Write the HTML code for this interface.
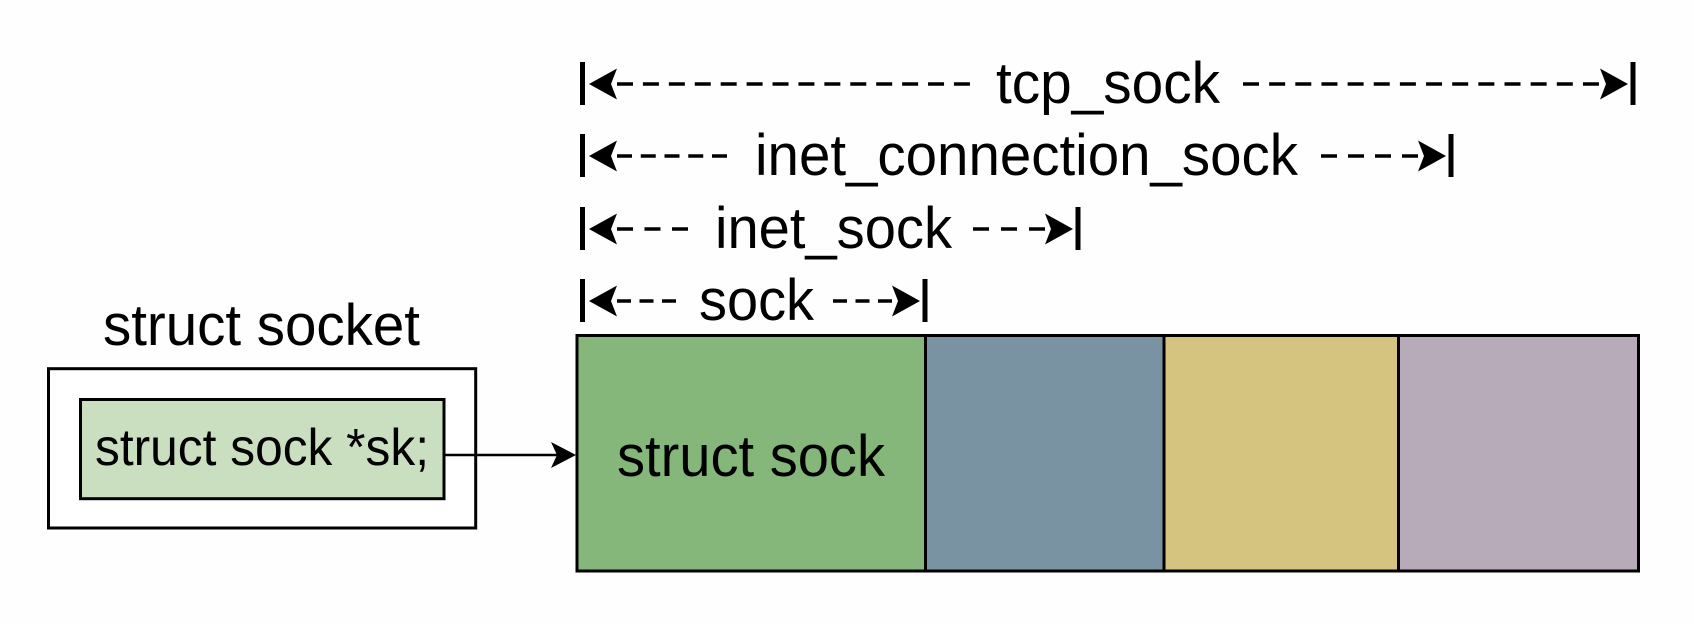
<!DOCTYPE html>
<html>
<head>
<meta charset="utf-8">
<style>
  html, body { margin: 0; padding: 0; background: #fefefe; }
  body { width: 1694px; height: 624px; overflow: hidden; }
  svg { display: block; }
  text { font-family: "Liberation Sans", Arial, sans-serif; fill: #000; }
</style>
</head>
<body>
<svg width="1694" height="624" viewBox="0 0 1694 624" xmlns="http://www.w3.org/2000/svg">
  <rect x="0" y="0" width="1694" height="624" fill="#fefefe"/>

  <!-- struct socket -->
  <text x="103" y="345" font-size="58" textLength="317" lengthAdjust="spacingAndGlyphs">struct socket</text>
  <rect x="48.5" y="368.7" width="427.2" height="159.3" fill="#ffffff" stroke="#000" stroke-width="3"/>
  <rect x="80.5" y="399.5" width="363.5" height="99.2" fill="#c9dfbf" stroke="#000" stroke-width="3"/>
  <text x="95" y="465" font-size="52" textLength="334" lengthAdjust="spacingAndGlyphs">struct sock *sk;</text>

  <!-- pointer arrow -->
  <line x1="444" y1="455" x2="558" y2="455" stroke="#000" stroke-width="2.5"/>
  <polygon points="576,455 551,442 557,455 551,468" fill="#000"/>

  <!-- big composite box -->
  <rect x="577" y="335.5" width="348.5" height="235.5" fill="#85b77b"/>
  <rect x="925.5" y="335.5" width="238.5" height="235.5" fill="#7a93a2"/>
  <rect x="1164" y="335.5" width="234.5" height="235.5" fill="#d5c47f"/>
  <rect x="1398.5" y="335.5" width="240" height="235.5" fill="#b8abb9"/>
  <rect x="577" y="335.5" width="1061.5" height="235.5" fill="none" stroke="#000" stroke-width="3"/>
  <line x1="925.5" y1="335.5" x2="925.5" y2="571" stroke="#000" stroke-width="3"/>
  <line x1="1164" y1="335.5" x2="1164" y2="571" stroke="#000" stroke-width="3"/>
  <line x1="1398.5" y1="335.5" x2="1398.5" y2="571" stroke="#000" stroke-width="3"/>
  <text x="617" y="476" font-size="58" textLength="268" lengthAdjust="spacingAndGlyphs">struct sock</text>

  <!-- Row 1: tcp_sock -->
  <g>
    <line x1="582.5" y1="62" x2="582.5" y2="105" stroke="#000" stroke-width="5"/>
    <polygon points="589,84 617,68.5 611,84 617,99.5" fill="#000"/>
    <line x1="617" y1="84" x2="970" y2="84" stroke="#000" stroke-width="3.5" stroke-dasharray="16 9.92"/>
    <text x="996" y="103" font-size="58" textLength="224" lengthAdjust="spacingAndGlyphs">tcp_sock</text>
    <line x1="1243" y1="84" x2="1599" y2="84" stroke="#000" stroke-width="3.5" stroke-dasharray="16 10.15"/>
    <polygon points="1628,84 1600,68.5 1606,84 1600,99.5" fill="#000"/>
    <line x1="1633" y1="62" x2="1633" y2="105" stroke="#000" stroke-width="5"/>
  </g>

  <!-- Row 2: inet_connection_sock -->
  <g>
    <line x1="582.5" y1="134" x2="582.5" y2="177" stroke="#000" stroke-width="5"/>
    <polygon points="589,156 617,140.5 611,156 617,171.5" fill="#000"/>
    <line x1="617" y1="156" x2="727" y2="156" stroke="#000" stroke-width="3.5" stroke-dasharray="15 8.75"/>
    <text x="755" y="175" font-size="58" textLength="543" lengthAdjust="spacingAndGlyphs">inet_connection_sock</text>
    <line x1="1321" y1="156" x2="1418" y2="156" stroke="#000" stroke-width="3.5" stroke-dasharray="16 11"/>
    <polygon points="1446,156 1418,140.5 1424,156 1418,171.5" fill="#000"/>
    <line x1="1451" y1="134" x2="1451" y2="177" stroke="#000" stroke-width="5"/>
  </g>

  <!-- Row 3: inet_sock -->
  <g>
    <line x1="582.5" y1="207" x2="582.5" y2="250" stroke="#000" stroke-width="5"/>
    <polygon points="589,229 617,213.5 611,229 617,244.5" fill="#000"/>
    <line x1="617" y1="229" x2="688" y2="229" stroke="#000" stroke-width="3.5" stroke-dasharray="16 11.5"/>
    <text x="715" y="248" font-size="58" textLength="237" lengthAdjust="spacingAndGlyphs">inet_sock</text>
    <line x1="973" y1="229" x2="1045" y2="229" stroke="#000" stroke-width="3.5" stroke-dasharray="16 12"/>
    <polygon points="1073,229 1045,213.5 1051,229 1045,244.5" fill="#000"/>
    <line x1="1078" y1="207" x2="1078" y2="250" stroke="#000" stroke-width="5"/>
  </g>

  <!-- Row 4: sock -->
  <g>
    <line x1="582.5" y1="279" x2="582.5" y2="322" stroke="#000" stroke-width="5"/>
    <polygon points="589,301 617,285.5 611,301 617,316.5" fill="#000"/>
    <line x1="617" y1="301" x2="676" y2="301" stroke="#000" stroke-width="3.5" stroke-dasharray="14 8.5"/>
    <text x="699" y="320" font-size="58" textLength="115" lengthAdjust="spacingAndGlyphs">sock</text>
    <line x1="833" y1="301" x2="892" y2="301" stroke="#000" stroke-width="3.5" stroke-dasharray="14 8.5"/>
    <polygon points="920,301 892,285.5 898,301 892,316.5" fill="#000"/>
    <line x1="925" y1="279" x2="925" y2="322" stroke="#000" stroke-width="5"/>
  </g>
</svg>
</body>
</html>
